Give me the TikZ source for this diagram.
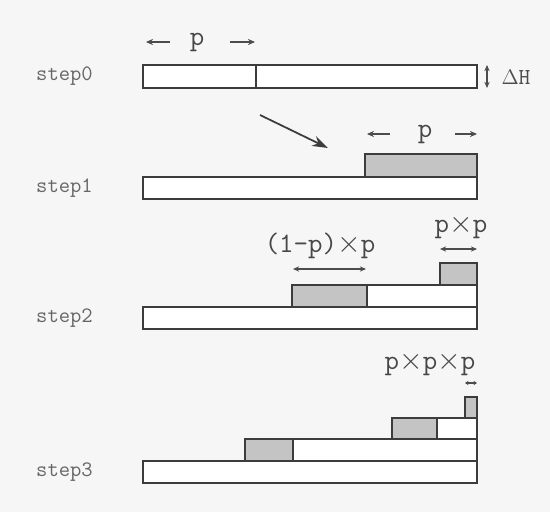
\documentclass[tikz,border=0pt]{standalone}
\usepackage{tikz}
\usetikzlibrary{arrows.meta}
\definecolor{lineGray}{HTML}{3C3C3C}
\definecolor{hatchGray}{HTML}{C4C4C4}
\definecolor{paperWhite}{HTML}{F6F6F6}

\begin{document}
\begin{tikzpicture}[
        bar/.style={draw=lineGray, line width=0.9pt, fill=white},
        hatch/.style={draw=lineGray, line width=0.9pt, fill=hatchGray},
        steplbl/.style={font=\fontsize{12.5}{14}\selectfont\ttfamily, text=black!60, anchor=west},
        plbl/.style={font=\fontsize{16}{18}\selectfont\ttfamily, text=black!72},
        dim/.style={black!70, line width=0.8pt, -{Stealth[length=4pt,width=3.5pt]}},
        dimboth/.style={black!70, line width=0.8pt, {Stealth[length=3.5pt,width=3pt]}-{Stealth[length=3.5pt,width=3pt]}}
    ]
        % page
        \fill[paperWhite] (0,0) rectangle (11,10.24);
        \useasboundingbox (0,0) rectangle (11,10.24);

        % row labels (centred on the bottom bar of each row)
        \foreach \i/\y in {0/8.71,1/6.48,2/3.88,3/0.80} {
            \node[steplbl] (s\i) at (0.60,\y) {step\i};
        }

        % step0: bar split at p
        \draw[bar] (2.86,8.48) rectangle (9.54,8.94);
        \draw[lineGray, line width=0.9pt] (5.12,8.48) -- (5.12,8.94);
        \node[plbl] (p0) at (3.94,9.40) {p};
        \coordinate (a0l) at (2.92,9.40); \coordinate (b0l) at (3.40,9.40);
        \coordinate (a0r) at (5.10,9.40); \coordinate (b0r) at (4.60,9.40);
        \draw[dim] (b0l) -- (a0l);
        \draw[dim] (b0r) -- (a0r);
        % height of one layer
        \coordinate (h0t) at (9.74,8.94); \coordinate (h0b) at (9.74,8.48);
        \draw[dimboth] (h0b) -- (h0t);
        \node[font=\fontsize{13}{14}\selectfont, text=black!70] (dh) at (10.32,8.70) {$\Delta$\texttt{H}};

        % move to step1
        \coordinate (m0) at (5.20,7.94); \coordinate (m1) at (6.56,7.28);
        \draw[lineGray, line width=1pt, -{Stealth[length=9pt,width=6pt]}] (m0) -- (m1);

        % step1
        \draw[bar] (2.86,6.26) rectangle (9.54,6.70);
        \draw[hatch] (7.30,6.70) rectangle (9.54,7.16);
        \node[plbl] (p1) at (8.50,7.56) {p};
        \coordinate (a1l) at (7.34,7.56); \coordinate (b1l) at (7.80,7.56);
        \coordinate (a1r) at (9.54,7.56); \coordinate (b1r) at (9.10,7.56);
        \draw[dim] (b1l) -- (a1l);
        \draw[dim] (b1r) -- (a1r);

        % step2
        \draw[bar] (2.86,3.66) rectangle (9.54,4.10);
        \draw[bar] (5.84,4.10) rectangle (9.54,4.54);
        \draw[hatch] (5.84,4.10) rectangle (7.34,4.54);
        \draw[hatch] (8.80,4.54) rectangle (9.54,4.98);
        \node[plbl] (q2) at (6.40,5.32) {(1-p)$\times$p};
        \coordinate (a2l) at (5.86,4.86); \coordinate (a2r) at (7.32,4.86);
        \draw[dimboth] (a2l) -- (a2r);
        \node[plbl] (pp2) at (9.22,5.70) {p$\times$p};
        \coordinate (c2l) at (8.80,5.26); \coordinate (c2r) at (9.54,5.26);
        \draw[dimboth] (c2l) -- (c2r);

        % step3
        \draw[bar] (2.86,0.58) rectangle (9.54,1.02);
        \draw[bar] (4.90,1.02) rectangle (9.54,1.46);
        \draw[hatch] (4.90,1.02) rectangle (5.86,1.46);
        \draw[bar] (7.84,1.46) rectangle (9.54,1.88);
        \draw[hatch] (7.84,1.46) rectangle (8.74,1.88);
        \draw[hatch] (9.30,1.88) rectangle (9.54,2.30);
        \node[plbl] (ppp3) at (8.60,2.96) {p$\times$p$\times$p};
        \coordinate (a3l) at (9.30,2.58); \coordinate (a3r) at (9.54,2.58);
        \draw[black!70, line width=0.7pt, {Stealth[length=2pt,width=2.5pt]}-{Stealth[length=2pt,width=2.5pt]}] (a3l) -- (a3r);
    \end{tikzpicture}
\end{document}
